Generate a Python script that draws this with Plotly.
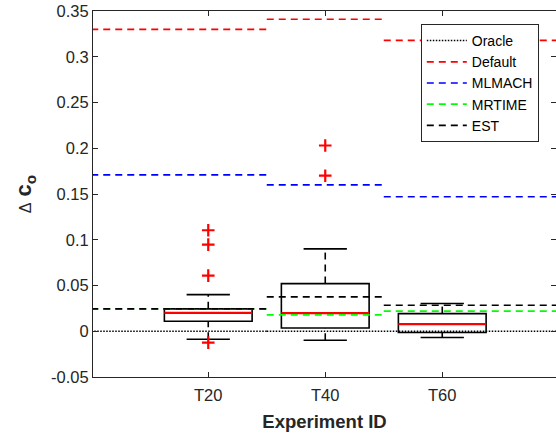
import plotly.graph_objects as go

# ---------------- data ----------------
categories = ["T20", "T40", "T60"]
positions = [1, 2, 3]

# box statistics per experiment
q1 = [0.0109, 0.0036, -0.0014]
median = [0.0200, 0.0197, 0.0077]
q3 = [0.0245, 0.0521, 0.0193]
whisker_low = [-0.0087, -0.0098, -0.0069]
whisker_high = [0.0400, 0.0900, 0.0303]

outlier_group = [1, 1, 1, 1, 2, 2]
outlier_value = [0.1104, 0.0947, 0.0608, -0.0124, 0.2030, 0.1700]

# per-experiment reference levels
oracle = [0.0, 0.0, 0.0]
default = [0.3300, 0.3410, 0.3180]
mlmach = [0.1710, 0.1600, 0.1470]
mrtime = [0.0244, 0.0180, 0.0219]
est = [0.0244, 0.0375, 0.0284]

ytick_vals = [-0.05, 0, 0.05, 0.1, 0.15, 0.2, 0.25, 0.3, 0.35]
ytick_text = ["-0.05", "0", "0.05", "0.1", "0.15", "0.2", "0.25", "0.3", "0.35"]

# ---------------- styling ----------------
FONT = "Liberation Sans, Arial, sans-serif"
AXC = "#262626"
BOX_W = 0.75
CAP_HALF = 0.185
XMIN, XMAX = 0.015, 0.015 + 463 / 117
DASH = "7px,5px"

fig = go.Figure()

# boxes (outline only, whiskers drawn separately)
for p, a, m, b in zip(positions, q1, median, q3):
    fig.add_trace(go.Box(
        x=[p], q1=[a], median=[m], q3=[b], lowerfence=[a], upperfence=[b],
        width=BOX_W, line=dict(color="black", width=1.6), fillcolor="rgba(0,0,0,0)",
        showlegend=False, hoverinfo="skip", boxpoints=False))

# whiskers (dashed)
wx, wy = [], []
for p, a, b, lo, hi in zip(positions, q1, q3, whisker_low, whisker_high):
    wx += [p, p, None, p, p, None]
    wy += [b, hi, None, lo, a, None]
fig.add_trace(go.Scatter(x=wx, y=wy, mode="lines",
                         line=dict(color="black", width=1.6, dash=DASH),
                         showlegend=False, hoverinfo="skip"))
# caps
cx, cy = [], []
for p, lo, hi in zip(positions, whisker_low, whisker_high):
    cx += [p - CAP_HALF, p + CAP_HALF, None, p - CAP_HALF, p + CAP_HALF, None]
    cy += [hi, hi, None, lo, lo, None]
fig.add_trace(go.Scatter(x=cx, y=cy, mode="lines",
                         line=dict(color="black", width=1.6),
                         showlegend=False, hoverinfo="skip"))
# medians (red)
mx, my = [], []
for p, m in zip(positions, median):
    mx += [p - BOX_W / 2, p + BOX_W / 2, None]
    my += [m, m, None]
fig.add_trace(go.Scatter(x=mx, y=my, mode="lines",
                         line=dict(color="red", width=2.2),
                         showlegend=False, hoverinfo="skip"))
# outliers
fig.add_trace(go.Scatter(x=outlier_group, y=outlier_value, mode="markers",
                         marker=dict(symbol="cross-thin", size=9,
                                     line=dict(color="red", width=2.2)),
                         showlegend=False, hoverinfo="skip"))


def segments(vals):
    xs, ys = [], []
    n = len(vals)
    for i, (p, v) in enumerate(zip(positions, vals)):
        x0 = 0 if i == 0 else p - 0.5
        x1 = 4 if i == n - 1 else p + 0.5
        xs += [x0, x1, None]
        ys += [v, v, None]
    return xs, ys


series = [
    ("Oracle", oracle, "black", "1.5px,1.5px", 1.5),
    ("Default", default, "#ff0000", DASH, 1.7),
    ("MLMACH", mlmach, "#0000ff", DASH, 1.7),
    ("MRTIME", mrtime, "#00ff00", DASH, 1.7),
    ("EST", est, "black", DASH, 1.7),
]
for name, vals, col, dash, w in series:
    xs, ys = segments(vals)
    fig.add_trace(go.Scatter(x=xs, y=ys, mode="lines", name=name,
                             line=dict(color=col, dash=dash, width=w),
                             hoverinfo="skip"))

# invisible trace to carry right-side ticks
fig.add_trace(go.Scatter(x=[None], y=[None], yaxis="y2", showlegend=False, hoverinfo="skip"))

fig.update_layout(
    width=556, height=435,
    margin=dict(l=93, r=0, t=11, b=58),
    paper_bgcolor="white", plot_bgcolor="white",
    font=dict(family=FONT, color=AXC, size=16.5),
    showlegend=True,
    legend=dict(x=0.708, y=0.9645, xanchor="left", yanchor="top",
                bgcolor="white", bordercolor=AXC, borderwidth=1,
                font=dict(size=14, color="black"), itemwidth=40,
                tracegroupgap=0),
    xaxis=dict(range=[XMIN, XMAX], tickvals=positions, ticktext=categories,
               showline=True, linecolor=AXC, linewidth=1, mirror="ticks",
               ticks="inside", ticklen=5, tickcolor=AXC, showgrid=False,
               zeroline=False, ticklabelstandoff=3,
               title=dict(text="<b>Experiment ID</b>", font=dict(size=18.5), standoff=12)),
    yaxis=dict(range=[-0.05, 0.35], tickvals=ytick_vals, ticktext=ytick_text,
               showline=True, linecolor=AXC, linewidth=1, mirror=False,
               ticks="inside", ticklen=5, tickcolor=AXC, showgrid=False,
               zeroline=False,
               title=dict(text='<span style="font-size:16px">Δ</span> <b>c</b><sub><b>o</b></sub>',
                          font=dict(size=22), standoff=13)),
    yaxis2=dict(range=[-0.05, 0.35], tickvals=ytick_vals, overlaying="y", side="right",
                showline=False, ticks="inside", ticklen=5, tickcolor=AXC,
                showticklabels=False, showgrid=False, zeroline=False),
)

fig.write_html("out.html")
